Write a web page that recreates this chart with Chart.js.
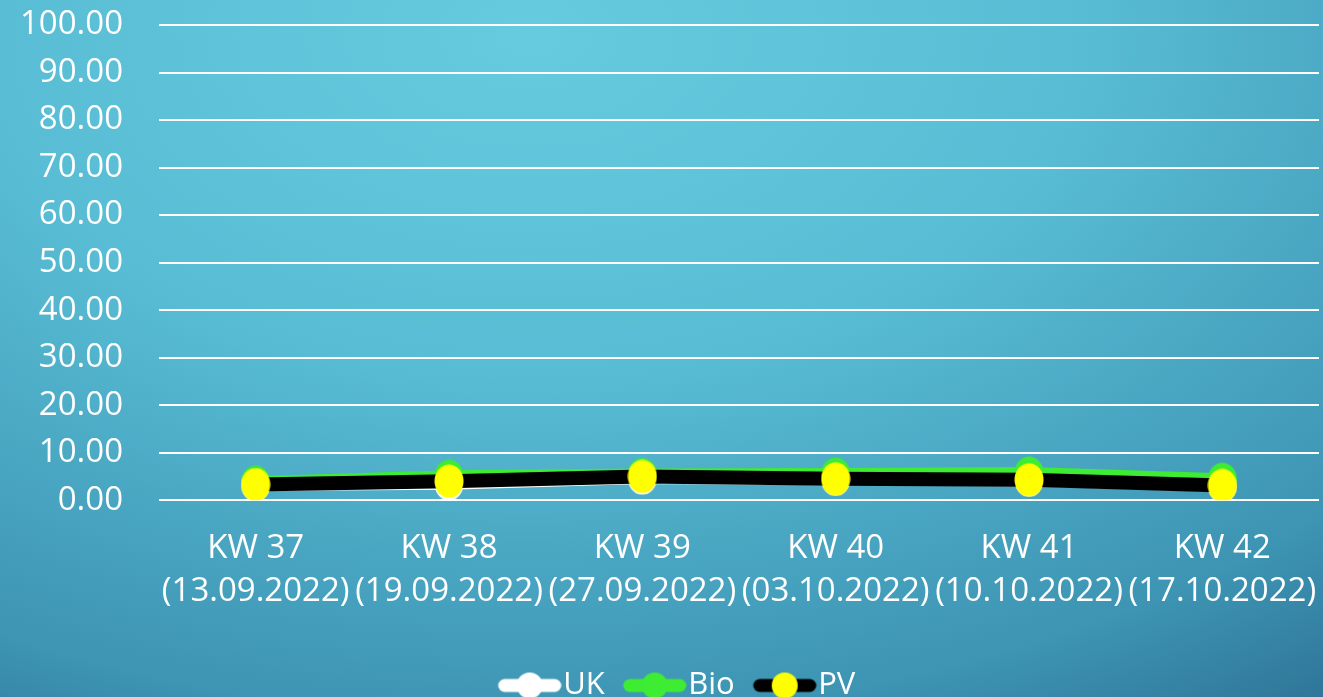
<!DOCTYPE html>
<html>
<head>
<meta charset="utf-8">
<script src="https://cdn.jsdelivr.net/npm/chart.js@4/dist/chart.umd.min.js"></script>
<style>
  html, body { margin: 0; padding: 0; }
  body {
    width: 1323px; height: 697px; overflow: hidden;
    background: radial-gradient(ellipse 120% 140% at 40% 5%, #67cbdf 0%, #58bcd4 35%, #3d94b3 70%, #2a6a8f 90%, #214f74 100%);
  }
  #wrap { position: relative; width: 1323px; height: 697px; }
</style>
</head>
<body>
<div id="wrap"><canvas id="c" width="1323" height="697"></canvas></div>
<script>
// Weekly readings per category
const categories = [
  ['KW 37', '(13.09.2022)'],
  ['KW 38', '(19.09.2022)'],
  ['KW 39', '(27.09.2022)'],
  ['KW 40', '(03.10.2022)'],
  ['KW 41', '(10.10.2022)'],
  ['KW 42', '(17.10.2022)']
];
const ukValues  = [3.2, 3.45, 4.65, 4.4, 4.2, 3.0];
const bioValues = [3.8, 5.05, 5.4, 5.5, 5.7, 4.4];
const pvValues  = [3.3, 4.0, 5.0, 4.5, 4.3, 3.1];
const yTicks = [0, 10, 20, 30, 40, 50, 60, 70, 80, 90, 100];

const FONT = '"Open Sans", Lato, sans-serif';
const SW_BOX = 64;   // legend box width reserved per item
const SW_PAD = 14;   // how far the swatch image reaches past its box

// Oval marker image used for the data points
function marker(color) {
  const cv = document.createElement('canvas');
  cv.width = 30; cv.height = 34;
  const g = cv.getContext('2d');
  g.fillStyle = color;
  g.beginPath(); g.ellipse(15, 17, 14.5, 16.5, 0, 0, Math.PI * 2); g.fill();
  return cv;
}

// Legend swatch: a rounded line with a marker in the middle,
// drawn in the right-hand part of a wider transparent image
function swatch(lineColor, dotColor) {
  const cv = document.createElement('canvas');
  cv.width = SW_BOX + 2 * SW_PAD; cv.height = 28;
  const g = cv.getContext('2d');
  const x0 = cv.width - 64;
  g.strokeStyle = lineColor;
  g.lineWidth = 13;
  g.lineCap = 'round';
  g.beginPath(); g.moveTo(x0 + 7, 14); g.lineTo(x0 + 57, 14); g.stroke();
  g.fillStyle = dotColor;
  g.beginPath(); g.arc(x0 + 32, 14, 13, 0, Math.PI * 2); g.fill();
  return cv;
}

const swatches = [
  swatch('#ffffff', '#ffffff'),
  swatch('#3dec33', '#3dec33'),
  swatch('#000000', '#ffff00')
];

new Chart(document.getElementById('c'), {
  type: 'line',
  data: {
    labels: categories,
    datasets: [
      {
        label: 'UK', data: ukValues,
        borderColor: '#ffffff', backgroundColor: '#ffffff',
        pointStyle: marker('#ffffff'),
        borderWidth: 12, pointRadius: 15, pointHoverRadius: 15,
        tension: 0, order: 3
      },
      {
        label: 'Bio', data: bioValues,
        borderColor: '#3dec33', backgroundColor: '#3dec33',
        pointStyle: marker('#3dec33'),
        borderWidth: 12, pointRadius: 15, pointHoverRadius: 15,
        tension: 0, order: 2
      },
      {
        label: 'PV', data: pvValues,
        borderColor: '#000000', backgroundColor: '#ffff00',
        pointStyle: marker('#ffff00'),
        borderWidth: 14, pointRadius: 15, pointHoverRadius: 15,
        tension: 0, order: 1
      }
    ]
  },
  options: {
    responsive: false,
    animation: false,
    layout: { autoPadding: false, padding: { top: 25, right: 4, left: 20, bottom: -14 } },
    scales: {
      x: {
        offset: true,
        grid: { display: false, drawTicks: false },
        border: { display: false },
        ticks: {
          color: '#ffffff', autoSkip: false, maxRotation: 0, minRotation: 0,
          padding: 27,
          font: { family: FONT, size: 33, lineHeight: 1.3 }
        },
        afterFit: (axis) => { axis.paddingLeft = 0; axis.paddingRight = 0; axis.height += 26; }
      },
      y: {
        min: 0, max: 100,
        afterBuildTicks: (axis) => { axis.ticks = yTicks.map(v => ({ value: v })); },
        grid: { color: '#ffffff', lineWidth: 2, drawTicks: false },
        border: { display: false },
        ticks: {
          color: '#ffffff', padding: 36,
          font: { family: FONT, size: 33 },
          callback: (v) => Number(v).toFixed(2)
        },
        afterFit: (axis) => { axis.paddingTop = 0; axis.paddingBottom = 0; axis.width -= 36; }
      }
    },
    plugins: {
      tooltip: { enabled: false },
      legend: {
        position: 'bottom',
        labels: {
          color: '#ffffff',
          font: { family: FONT, size: 31 },
          usePointStyle: true,
          pointStyleWidth: SW_BOX,
          padding: 4,
          generateLabels: (chart) => chart.data.datasets.map((ds, i) => ({
            text: ds.label,
            fontColor: '#ffffff',
            pointStyle: swatches[i],
            datasetIndex: i,
            hidden: false,
            lineWidth: 0
          }))
        }
      }
    }
  }
});
</script>
</body>
</html>
